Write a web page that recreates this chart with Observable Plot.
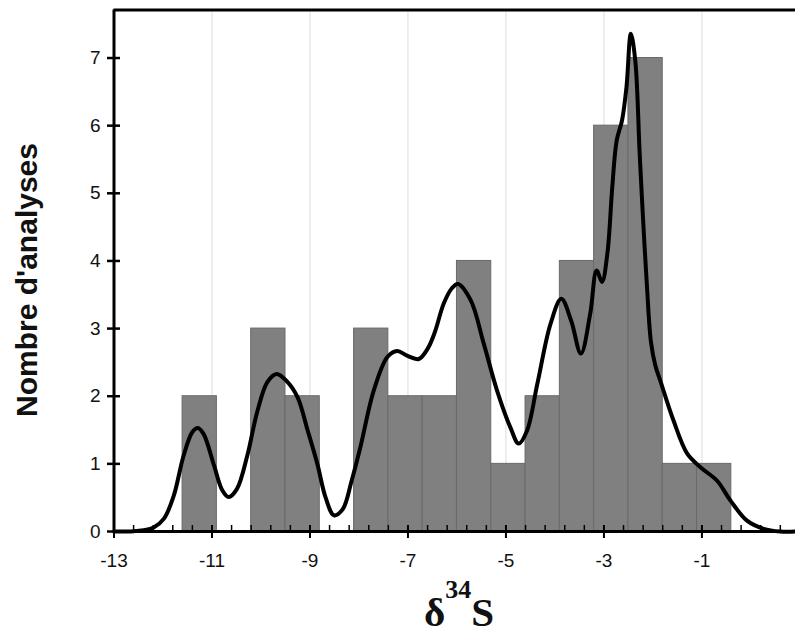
<!DOCTYPE html>
<html>
<head>
<meta charset="utf-8">
<script src="https://cdn.jsdelivr.net/npm/d3@7"></script>
<script src="https://cdn.jsdelivr.net/npm/@observablehq/plot@0.6"></script>
<style>
  html, body { margin: 0; padding: 0; background: white; }
  #wrap { position: relative; width: 795px; height: 635px; background: white; }
  #ylabel { position: absolute; left: 27px; top: 280px; transform: translate(-50%, -50%) rotate(-90deg);
    white-space: nowrap; font: bold 30px "Liberation Sans", Arial, sans-serif; color: #111; line-height: 1; }
  #xlabel { position: absolute; left: 459px; top: 594px; transform: translateX(-50%);
    white-space: nowrap; font: bold 41px "Liberation Serif", "Times New Roman", serif; color: #111; line-height: 36px; }
  #xlabel sup { font-size: 26px; position: relative; top: -28px; vertical-align: baseline; line-height: 0; }
</style>
</head>
<body>
<div id="wrap">
  <div id="chart"></div>
  <div id="ylabel">Nombre d'analyses</div>
  <div id="xlabel">δ<sup>34</sup>S</div>
</div>
<script>
// Histogram bins (lower edge of each bin, width 0.7) and counts
const binStarts = [-11.6, -10.2, -9.5, -8.1, -7.4, -6.7, -6.0, -5.3, -4.6, -3.9, -3.2, -2.5, -1.8, -1.1];
const counts    = [2, 3, 2, 3, 2, 2, 4, 1, 2, 4, 6, 7, 1, 1];
const binWidth = 0.7;

// Density curve (x = δ34S, y in count units)
const curveX = [-13.0, -12.6, -12.4, -12.19, -11.98, -11.78, -11.58, -11.40, -11.29, -11.17, -10.96, -10.79, -10.66, -10.49, -10.28, -10.08, -9.87, -9.68, -9.47, -9.25, -9.05, -8.85, -8.68, -8.51, -8.33, -8.15, -7.97, -7.70, -7.42, -7.22, -7.02, -6.78, -6.60, -6.45, -6.27, -6.10, -5.98, -5.72, -5.45, -5.18, -4.91, -4.74, -4.57, -4.36, -4.09, -3.87, -3.67, -3.47, -3.28, -3.15, -3.04, -2.93, -2.83, -2.74, -2.63, -2.54, -2.45, -2.36, -2.27, -2.20, -2.12, -2.04, -1.95, -1.85, -1.58, -1.30, -1.03, -0.69, -0.42, -0.08, 0.26, 0.60, 0.91];
const curveY = [0.0, 0.005, 0.02, 0.06, 0.19, 0.53, 1.12, 1.47, 1.53, 1.44, 0.98, 0.61, 0.51, 0.63, 1.12, 1.76, 2.21, 2.33, 2.22, 1.98, 1.50, 1.00, 0.50, 0.24, 0.33, 0.75, 1.25, 2.08, 2.58, 2.67, 2.60, 2.55, 2.70, 2.95, 3.37, 3.60, 3.66, 3.42, 2.77, 2.08, 1.54, 1.30, 1.49, 2.18, 3.07, 3.44, 3.12, 2.63, 3.22, 3.86, 3.69, 4.11, 5.09, 5.78, 6.08, 6.57, 7.36, 6.96, 5.58, 4.60, 3.60, 2.80, 2.45, 2.23, 1.64, 1.15, 0.95, 0.75, 0.46, 0.16, 0.04, 0.0, 0.0];

// Axis ticks
const xMajorTicks = [-13, -11, -9, -7, -5, -3, -1];
const xGridTicks = [-11, -9, -7, -5, -3, -1];
const xMinorTicks = d3.range(0, 35).map(i => +(-13 + i * 0.4).toFixed(1));
const yTicks = [0, 1, 2, 3, 4, 5, 6, 7];
const xDomain = [-13, 0.91];
const yDomain = [0, 7.71];

const bins = binStarts.map((s, i) => ({x1: s, x2: +(s + binWidth).toFixed(2), count: counts[i]}));
const curve = curveX.map((x, i) => ({x, y: curveY[i]}));

const chart = Plot.plot({
  width: 795,
  height: 580,
  marginLeft: 113.5,
  marginRight: 0,
  marginTop: 9.5,
  marginBottom: 49,
  style: {fontFamily: "'Liberation Sans', Arial, sans-serif", fontSize: "19px", color: "#111", background: "white", overflow: "visible"},
  x: {domain: xDomain},
  y: {domain: yDomain},
  marks: [
    Plot.gridX(xGridTicks, {stroke: "#dcdcdc", strokeOpacity: 1, strokeWidth: 1}),
    Plot.rectY(bins, {x1: "x1", x2: "x2", y: "count", fill: "#808080", stroke: "#6a6a6a", strokeWidth: 1}),
    Plot.line(curve, {x: "x", y: "y", stroke: "black", strokeWidth: 4, curve: "catmull-rom"}),
    Plot.ruleY([yDomain[0]], {stroke: "black", strokeWidth: 3}),
    Plot.ruleY([yDomain[1]], {stroke: "black", strokeWidth: 3}),
    Plot.ruleX([xDomain[0]], {stroke: "black", strokeWidth: 3}),
    // x axis: minor ticks (inward), major ticks (crossing), labels
    Plot.axisX(xMinorTicks, {tickSize: 6, dy: -6, tickFormat: () => "", label: null, strokeWidth: 1.5, stroke: "black"}),
    Plot.axisX(xMajorTicks, {tickSize: 13, dy: -6, tickFormat: () => "", label: null, strokeWidth: 2, stroke: "black"}),
    Plot.axisX(xMajorTicks, {tickSize: 0, tickPadding: 22, tickFormat: d => String(d), label: null, fontSize: 19}),
    // y axis: crossing ticks, labels
    Plot.axisY(yTicks, {tickSize: 13, dx: 6.5, tickFormat: () => "", label: null, strokeWidth: 2.5, stroke: "black"}),
    Plot.axisY(yTicks, {tickSize: 0, tickPadding: 13.5, tickFormat: d => String(d), label: null, fontSize: 19})
  ]
});
document.getElementById("chart").appendChild(chart);
</script>
</body>
</html>
